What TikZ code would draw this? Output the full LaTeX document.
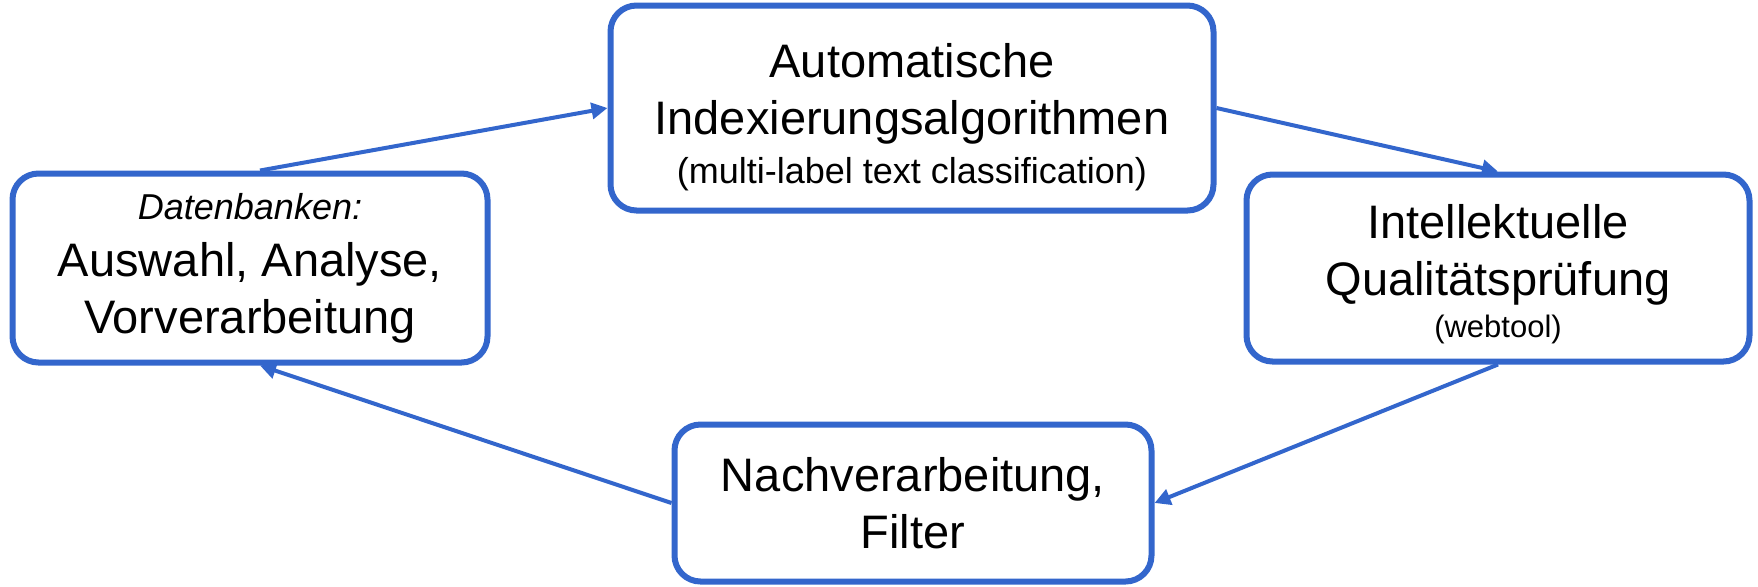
\documentclass[tikz,border=0pt]{standalone}
\usepackage{fontspec}
\setmainfont{Liberation Sans}
\usepackage{tikz}
\usetikzlibrary{arrows.meta,positioning}
\definecolor{boxblue}{HTML}{3366CC}

\begin{document}
\begin{tikzpicture}[x=0.5pt,y=-0.5pt,->,>={Triangle[length=8pt,width=8pt]},
                main node/.style={rectangle,rounded corners=13pt,draw=boxblue,line width=3pt,fill=white,
                  inner sep=0pt,align=center,font=\fontsize{23.5}{28.5}\selectfont}]
            \useasboundingbox (0,0) rectangle (1758,586);
            \node[main node,minimum width=237.5pt,minimum height=94.5pt] (1) at (250,268)
                {{\fontsize{18}{23}\selectfont\itshape Datenbanken:}\\Auswahl, Analyse,\\Vorverarbeitung};
            \node[main node,minimum width=301.5pt,minimum height=102.5pt] (2) at (912,108)
                {\rule{0pt}{26pt}Automatische\\Indexierungsalgorithmen\\[-4pt]{\fontsize{18}{23}\selectfont (multi-label text classification)}};
            \node[main node,minimum width=251.5pt,minimum height=93.5pt] (3) at (1498,268)
                {\rule{0pt}{23pt}Intellektuelle\\Qualitätsprüfung\\[-7.5pt]{\fontsize{15.5}{20}\selectfont (webtool)}};
            \node[main node,minimum width=238.5pt,minimum height=78.5pt] (4) at (913,503)
                {Nachverarbeitung,\\Filter};
            \path[color=boxblue,line width=2pt]
                ([xshift=5pt]1.north) edge (2.west)
                (2.east) edge (3.north)
                (3.south) edge (4.east)
                (4.west) edge ([xshift=5pt]1.south);
        \end{tikzpicture}
\end{document}
